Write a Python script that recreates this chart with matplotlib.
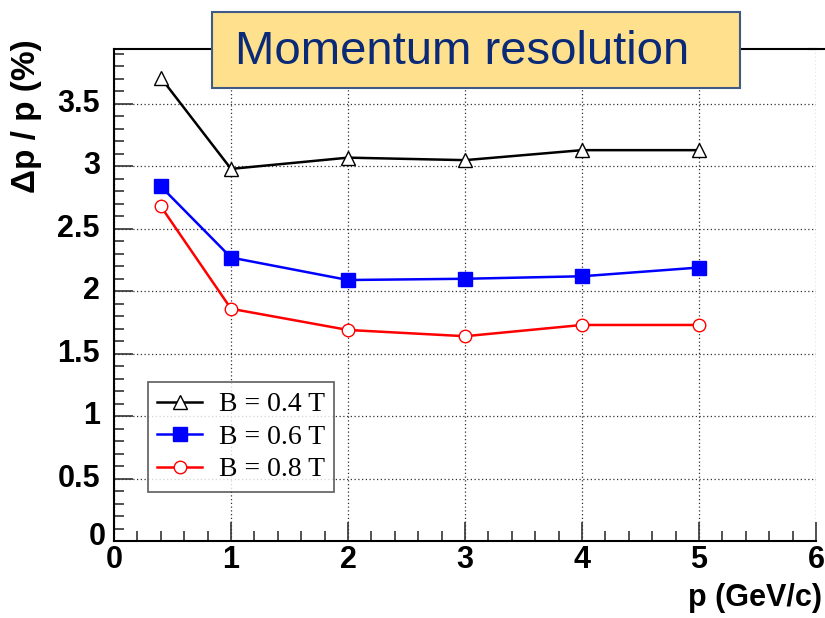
import matplotlib
matplotlib.use("Agg")
import matplotlib.pyplot as plt
from matplotlib.ticker import MultipleLocator
from matplotlib.patches import Rectangle
from matplotlib.lines import Line2D

# data
p_vals = [0.4, 1, 2, 3, 4, 5]
res_b04 = [3.71, 2.98, 3.07, 3.05, 3.13, 3.13]
res_b06 = [2.84, 2.27, 2.09, 2.10, 2.12, 2.19]
res_b08 = [2.68, 1.86, 1.69, 1.64, 1.73, 1.73]
labels = ['B = 0.4 T', 'B = 0.6 T', 'B = 0.8 T']

sans = ['Liberation Sans', 'DejaVu Sans']
serif = ['Liberation Serif', 'DejaVu Serif']

fig = plt.figure(figsize=(8.25, 6.18), dpi=100)
ax = fig.add_axes([0.1382, 0.1246, 0.8509, 0.7961])

ax.plot(p_vals, res_b04, color='black', lw=1.8, marker='^', ms=10,
        mfc='white', mec='black', mew=1.0, label=labels[0])
ax.plot(p_vals, res_b06, color='blue', lw=1.8, marker='s', ms=10,
        mfc='blue', mec='blue', label=labels[1])
ax.plot(p_vals, res_b08, color='red', lw=1.8, marker='o', ms=9,
        mfc='white', mec='red', mew=1.0, label=labels[2])

ax.set_xlim(0, 6)
ax.set_ylim(0, 3.94)
ax.xaxis.set_major_locator(MultipleLocator(1))
ax.xaxis.set_minor_locator(MultipleLocator(0.2))
ax.yaxis.set_major_locator(MultipleLocator(0.5))
ax.yaxis.set_minor_locator(MultipleLocator(0.1))
ax.grid(True, which='major', ls=(0, (1, 2)), lw=0.9, color='#333333')

ax.tick_params(which='both', direction='in', top=False, right=False,
               width=1.2, color='#333333')
ax.tick_params(which='major', length=14, pad=6)
ax.tick_params(which='minor', length=7)
ax.spines['right'].set_visible(False)
for s in ['left', 'bottom', 'top']:
    ax.spines[s].set_linewidth(1.5)
# top frame line runs on to the picture edge
fig.add_artist(Line2D([0.98, 1.0], [0.9207, 0.9207], color='black', lw=1.5))

ax.set_xticklabels([])
ax.set_yticklabels([])
for v in range(0, 7):
    ax.text(v, -0.03, str(v), ha='center', va='top', fontsize=22,
            fontweight='bold', family=sans)
for v in [0.5, 1, 1.5, 2, 2.5, 3, 3.5]:
    ax.text(-0.12, v, f'{v:g}', ha='right', va='center', fontsize=22,
            fontweight='bold', family=sans)
ax.text(-0.07, 0.03, '0', ha='right', va='center', fontsize=22,
        fontweight='bold', family=sans)

fig.text(0.996, 0.008, 'p (GeV/c)', ha='right', va='bottom', fontsize=22,
         fontweight='bold', family=sans)
fig.text(0.032, 0.937, 'Δp / p (%)', ha='center', va='top', rotation=90,
         fontsize=24, fontweight='bold', family=sans)

leg = ax.legend(loc='lower left', bbox_to_anchor=(0.048, 0.0996),
                prop={'family': serif, 'size': 20}, frameon=True,
                fancybox=False, edgecolor='#333333', borderpad=0.35,
                handlelength=1.6, handletextpad=0.6, labelspacing=0.25,
                borderaxespad=0)
leg.get_frame().set_linewidth(1.2)

# title box
fig.add_artist(Rectangle((212 / 825, 1 - 88 / 618), 528 / 825, 76 / 618,
                         transform=fig.transFigure, fc='#ffe08c',
                         ec='#3f5a85', lw=1.5, zorder=5))
fig.text(0.56, 1 - 52 / 618, 'Momentum resolution', ha='center', va='center',
         fontsize=34, color='#0a2a78', family=sans, zorder=6)

fig.savefig('out.png', dpi=100)
